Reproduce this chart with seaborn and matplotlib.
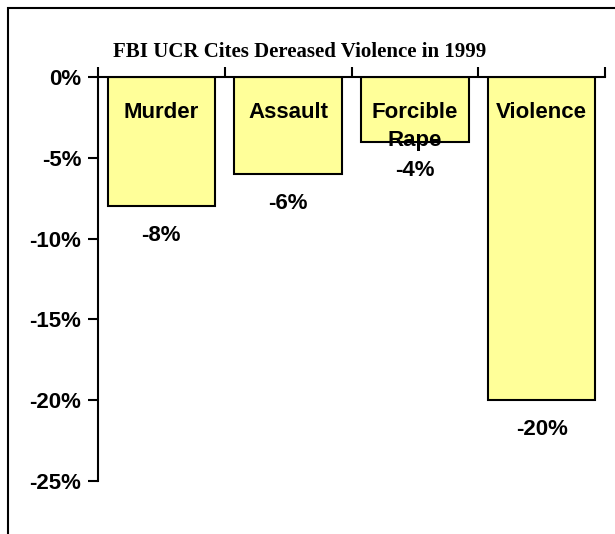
import matplotlib
matplotlib.use("Agg")
import matplotlib.pyplot as plt
import seaborn as sns
import pandas as pd
from matplotlib.patches import Rectangle

# data
categories = ["Murder", "Assault", "Forcible\nRape", "Violence"]
changes = [-8, -6, -4, -20]
value_labels = ["-8%", "-6%", "-4%", "-20%"]
y_ticks = [0, -5, -10, -15, -20, -25]
y_tick_labels = ["0%", "-5%", "-10%", "-15%", "-20%", "-25%"]

df = pd.DataFrame({"crime": categories, "change": changes})

sns.set_style("white")
plt.rcParams["font.family"] = ["Liberation Sans", "DejaVu Sans"]
plt.rcParams["text.color"] = "black"
plt.rcParams["ytick.color"] = "black"
plt.rcParams["xtick.color"] = "black"

fig = plt.figure(figsize=(6.15, 5.34), dpi=100)
ax = fig.add_axes([98 / 615, 1 - 481 / 534, 507 / 615, 404 / 534])

sns.barplot(data=df, x="crime", y="change", color="#FFFF99", width=0.85,
            edgecolor="black", linewidth=1.5, saturation=1, ax=ax)

ax.set_xlim(-0.5, 3.5)
ax.set_ylim(-25, 0)
ax.set_xlabel("")
ax.set_ylabel("")

# x axis sits at 0% along the top
ax.xaxis.tick_top()
ax.set_xticks([i - 0.5 for i in range(5)])
ax.set_xticklabels([])
ax.tick_params(axis="x", direction="out", length=7, width=1.5, color="black")
ax.set_yticks(y_ticks)
ax.set_yticklabels(y_tick_labels, fontsize=16, fontweight="bold", color="black")
ax.tick_params(axis="y", direction="out", length=7, width=1.5, color="black", left=True, pad=5)

for side in ["bottom", "right"]:
    ax.spines[side].set_visible(False)
for side in ["top", "left"]:
    ax.spines[side].set_linewidth(1.5)
    ax.spines[side].set_color("black")

for i, (name, v, lab) in enumerate(zip(categories, changes, value_labels)):
    ax.text(i, -1.55, name, ha="center", va="top", fontsize=16, fontweight="bold",
            linespacing=1.45, color="black")
    ax.text(i, v - 1.8, lab, ha="center", va="center", fontsize=16, fontweight="bold",
            color="black")

fig.text(300 / 615, 1 - 52 / 534, "FBI UCR Cites Dereased Violence in 1999",
         ha="center", va="center", fontsize=15, fontweight="bold", color="black",
         family=["Liberation Serif", "DejaVu Serif"])

# outer frame, cut off at right and bottom
fig.patches.append(Rectangle((8 / 615, -0.1), 1.2, 1 - 8 / 534 + 0.1,
                             transform=fig.transFigure, fill=False,
                             edgecolor="black", linewidth=1.5))

fig.savefig("out.png", dpi=100)
